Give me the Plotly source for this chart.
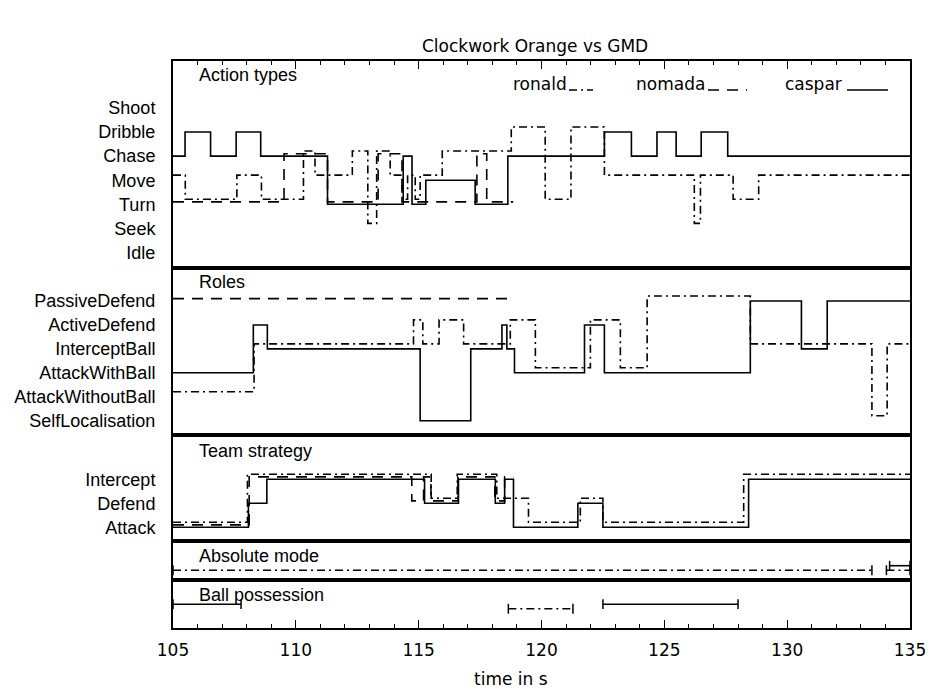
import plotly.graph_objects as go
from plotly.subplots import make_subplots

# ---------------- data ----------------
T_START = 105.0
T_END = 135.0

ACTION_LEVELS = ["Idle", "Seek", "Turn", "Move", "Chase", "Dribble", "Shoot"]
ROLE_LEVELS = ["SelfLocalisation", "AttackWithoutBall", "AttackWithBall",
               "InterceptBall", "ActiveDefend", "PassiveDefend"]
TEAM_LEVELS = ["Attack", "Defend", "Intercept"]

# Action types (step changes: time -> new state)
caspar_action_t = [105.0, 105.49, 106.53, 107.57, 108.57, 111.29, 114.37, 114.73, 115.29,
                   117.30, 118.63, 122.56, 123.66, 124.70, 125.48, 126.50, 127.58]
caspar_action = ["Chase", "Dribble", "Chase", "Dribble", "Chase", "Turn", "Chase", "Turn", "Move",
                 "Turn", "Chase", "Dribble", "Chase", "Dribble", "Chase", "Dribble", "Chase"]
caspar_action_end = 135.0

ronald_action_t = [105.0, 105.5, 107.6, 108.6, 110.31, 110.78, 112.3, 112.93, 113.29, 113.84,
                   114.32, 114.55, 114.86, 115.06, 115.96, 118.77, 120.15, 121.2, 122.56,
                   126.22, 126.47, 127.8, 128.84]
ronald_action = ["Move", "Turn", "Move", "Turn", "Chase", "Move", "Chase", "Seek", "Chase", "Move",
                 "Turn", "Move", "Turn", "Move", "Chase", "Dribble", "Turn", "Dribble", "Move",
                 "Seek", "Move", "Turn", "Move"]
ronald_action_end = 135.0

nomada_action_t = [105.0, 109.52, 111.29, 113.35, 114.32, 117.37, 117.77]
nomada_action = ["Turn", "Chase", "Turn", "Chase", "Turn", "Chase", "Turn"]
nomada_action_end = 118.85

# Roles
caspar_role_t = [105.0, 108.27, 108.84, 115.06, 117.12, 118.39, 118.59, 118.9, 121.75,
                 122.56, 128.5, 130.58, 131.63]
caspar_role = ["AttackWithBall", "ActiveDefend", "InterceptBall", "SelfLocalisation",
               "InterceptBall", "ActiveDefend", "InterceptBall", "AttackWithBall",
               "ActiveDefend", "AttackWithBall", "PassiveDefend", "InterceptBall",
               "PassiveDefend"]
caspar_role_end = 135.0

ronald_role_t = [105.0, 108.3, 114.79, 115.17, 115.83, 116.83, 118.73, 119.75, 121.99,
                 123.21, 124.3, 128.5, 133.45, 134.07]
ronald_role = ["AttackWithoutBall", "InterceptBall", "ActiveDefend", "InterceptBall",
               "ActiveDefend", "InterceptBall", "ActiveDefend", "AttackWithBall",
               "ActiveDefend", "AttackWithBall", "PassiveDefend", "InterceptBall",
               "SelfLocalisation", "InterceptBall"]
ronald_role_end = 135.0

nomada_role_t = [105.0]
nomada_role = ["PassiveDefend"]
nomada_role_end = 118.8

# Team strategy
caspar_team_t = [105.0, 108.07, 108.82, 115.24, 116.62, 118.12, 118.5, 118.86, 121.48,
                 122.5, 128.43]
caspar_team = ["Attack", "Defend", "Intercept", "Defend", "Intercept", "Defend", "Intercept",
               "Attack", "Defend", "Attack", "Intercept"]
caspar_team_end = 135.0

ronald_team_t = [105.0, 108.03, 115.51, 116.57, 118.18, 119.47, 121.58, 122.5, 128.23]
ronald_team = ["Attack", "Intercept", "Defend", "Intercept", "Defend", "Attack", "Defend",
               "Attack", "Intercept"]
ronald_team_end = 135.0

nomada_team_t = [105.0, 108.1, 114.72, 115.2, 115.5, 116.6, 118.1, 118.5]
nomada_team = ["Attack", "Intercept", "Defend", "Intercept", "Defend", "Intercept", "Defend",
               "Intercept"]
nomada_team_end = 118.85

# Absolute mode intervals (start, end)
ronald_absolute = [(105.0, 133.45), (134.04, 135.0)]
caspar_absolute = [(134.17, 135.0)]

# Ball possession intervals (start, end)
caspar_ball = [(105.0, 107.77), (122.5, 128.0)]
ronald_ball = [(118.65, 121.28)]

# ---------------- style ----------------
STYLE = {
    "caspar": dict(color="black", width=1.6, dash="solid"),
    "ronald": dict(color="black", width=1.6, dash="8px,4px,2px,4px"),
    "nomada": dict(color="black", width=1.6, dash="11px,8px"),
}
OFFSET_STEP = {"caspar": 0.0, "ronald": 0.21, "nomada": 0.1}
OFFSET_INTERVAL = {"caspar": 0.0, "ronald": -0.19}

LABEL_FONT = dict(family="Liberation Sans, Arial, sans-serif", size=18, color="black")
NUM_FONT = dict(family="DejaVu Sans, sans-serif", size=17, color="black")

ROW_HEIGHTS = [207, 167, 106, 39, 48]

fig = make_subplots(rows=5, cols=1, shared_xaxes=True, vertical_spacing=0,
                    row_heights=ROW_HEIGHTS)


def step_trace(times, states, end, levels, who, row):
    xs = list(times) + [end]
    ys = [levels.index(s) + OFFSET_STEP[who] for s in states]
    ys = ys + [ys[-1]]
    fig.add_trace(go.Scatter(x=xs, y=ys, mode="lines", line_shape="hv",
                             line=STYLE[who], showlegend=False, hoverinfo="skip"),
                  row=row, col=1)


def interval_trace(intervals, who, row):
    xs, ys = [], []
    for s, e in intervals:
        xs += [s, e, None]
        ys += [OFFSET_INTERVAL[who]] * 2 + [None]
    fig.add_trace(go.Scatter(x=xs, y=ys, mode="lines+markers", line=STYLE[who],
                             marker=dict(symbol="line-ns", size=7,
                                         line=dict(width=1.5, color="black")),
                             showlegend=False, hoverinfo="skip", connectgaps=False),
                  row=row, col=1)


step_trace(ronald_action_t, ronald_action, ronald_action_end, ACTION_LEVELS, "ronald", 1)
step_trace(nomada_action_t, nomada_action, nomada_action_end, ACTION_LEVELS, "nomada", 1)
step_trace(caspar_action_t, caspar_action, caspar_action_end, ACTION_LEVELS, "caspar", 1)

step_trace(ronald_role_t, ronald_role, ronald_role_end, ROLE_LEVELS, "ronald", 2)
step_trace(nomada_role_t, nomada_role, nomada_role_end, ROLE_LEVELS, "nomada", 2)
step_trace(caspar_role_t, caspar_role, caspar_role_end, ROLE_LEVELS, "caspar", 2)

step_trace(ronald_team_t, ronald_team, ronald_team_end, TEAM_LEVELS, "ronald", 3)
step_trace(nomada_team_t, nomada_team, nomada_team_end, TEAM_LEVELS, "nomada", 3)
step_trace(caspar_team_t, caspar_team, caspar_team_end, TEAM_LEVELS, "caspar", 3)

interval_trace(ronald_absolute, "ronald", 4)
interval_trace(caspar_absolute, "caspar", 4)

interval_trace(caspar_ball, "caspar", 5)
interval_trace(ronald_ball, "ronald", 5)

# ---------------- axes ----------------
Y_RANGES = [[-0.643, 7.946], [-0.597, 6.378], [-0.571, 3.846], [-0.596, 1.029], [-0.992, 1.008]]
Y_TICKS = [ACTION_LEVELS, ROLE_LEVELS, TEAM_LEVELS, None, None]

for i in range(5):
    r = i + 1
    yk = dict(range=Y_RANGES[i], showgrid=False, zeroline=False, showline=True,
              mirror=True, linecolor="black", linewidth=2, ticks="", fixedrange=True,
              automargin=False)
    if Y_TICKS[i] is not None:
        yk.update(tickmode="array", tickvals=list(range(len(Y_TICKS[i]))),
                  ticktext=Y_TICKS[i], tickfont=LABEL_FONT, ticklabelstandoff=12)
    else:
        yk.update(showticklabels=False)
    fig.update_yaxes(row=r, col=1, **yk)

    xk = dict(range=[T_START, T_END], showgrid=False, zeroline=False, showline=True,
              mirror=True, linecolor="black", linewidth=2, automargin=False)
    if r == 1:
        xk.update(side="top", ticks="inside", ticklen=8, tickwidth=1.2, tickcolor="black",
                  dtick=5, tick0=105, showticklabels=False,
                  minor=dict(dtick=1, ticks="inside", ticklen=4, tickwidth=1.2,
                             tickcolor="black"))
    elif r == 5:
        xk.update(ticks="inside", ticklen=8, tickwidth=1.2, tickcolor="black",
                  dtick=5, tick0=105, showticklabels=True, tickfont=NUM_FONT,
                  ticklabelstandoff=6,
                  minor=dict(dtick=1, ticks="inside", ticklen=4, tickwidth=1.2,
                             tickcolor="black"))
    else:
        xk.update(ticks="", showticklabels=False)
    fig.update_xaxes(row=r, col=1, **xk)

# ---------------- text ----------------
W, H = 930, 689
ML, MR, MT, MB = 173, 20, 61, 61
PW, PH = W - ML - MR, H - MT - MB


def px(x):
    return (x - ML) / PW


def py(y):
    return (H - MB - y) / PH


annotations = [
    dict(text="Clockwork Orange vs GMD", x=px(535), y=py(46), font=NUM_FONT,
         xanchor="center", yanchor="middle"),
    dict(text="time in s", x=px(511), y=py(679), font=NUM_FONT,
         xanchor="center", yanchor="middle"),
]
panel_titles = [("Action types", 75), ("Roles", 282), ("Team strategy", 451),
                ("Absolute mode", 556), ("Ball possession", 595)]
for txt, yy in panel_titles:
    annotations.append(dict(text=txt, x=px(197), y=py(yy), font=LABEL_FONT,
                            xanchor="left", yanchor="middle"))

legend_items = [("ronald", 511, 569, 593, "ronald"), ("nomada", 634, 708, 747, "nomada"),
                ("caspar", 783, 847, 888, "caspar")]
shapes = []
for name, tx, s0, s1, who in legend_items:
    annotations.append(dict(text=name, x=px(tx), y=py(84), font=NUM_FONT,
                            xanchor="left", yanchor="middle"))
    shapes.append(dict(type="line", xref="paper", yref="paper", x0=px(s0), x1=px(s1),
                       y0=py(90), y1=py(90), line=STYLE[who]))

for a in annotations:
    a.update(xref="paper", yref="paper", showarrow=False)

fig.update_layout(width=W, height=H, margin=dict(l=ML, r=MR, t=MT, b=MB),
                  paper_bgcolor="white", plot_bgcolor="white", showlegend=False,
                  annotations=annotations, shapes=shapes)

fig.write_html("out.html",
               config={"displayModeBar": False},
               post_script="document.body.style.margin='0px';"
                           "document.body.style.overflow='hidden';")
